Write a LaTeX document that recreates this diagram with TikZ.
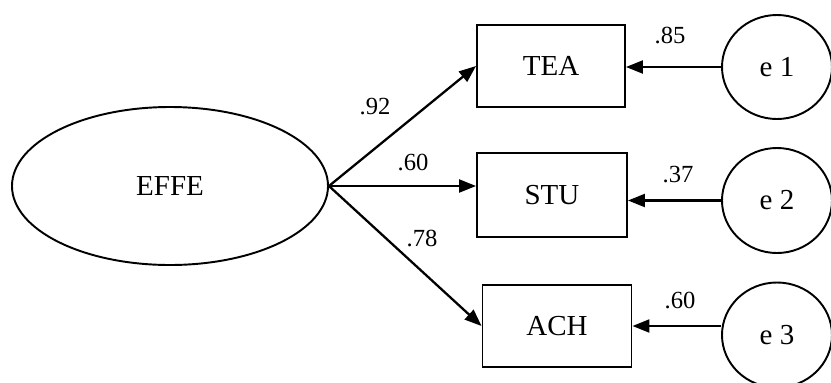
\documentclass[tikz,border=0pt]{standalone}
\usepackage{fontspec}
\setmainfont{Liberation Serif}
\usetikzlibrary{arrows.meta,shapes.geometric}

\tikzset{
  path/.style={line width=1.3pt, -{Triangle[length=3.4mm, width=2.6mm]}},
  latent/.style={draw, line width=1.1pt, ellipse, inner sep=0pt, font=\fontsize{16.5}{19}\selectfont},
  observed/.style={draw, line width=1.1pt, rectangle, inner sep=0pt, font=\fontsize{16.5}{19}\selectfont},
  weight/.style={font=\fontsize{14}{16}\selectfont}
}

\begin{document}
\begin{tikzpicture}
            % Fix the frame
            \useasboundingbox (0,0) rectangle (16.62,-7.64);

            % Latent factor
            \node[latent, minimum width=6.32cm, minimum height=3.16cm] (EFFE) at (3.40,-3.72) {EFFE};

            % Indicators
            \node[observed, minimum width=2.96cm, minimum height=1.64cm] (TEA) at (11.02,-1.32) {TEA};
            \node[observed, minimum width=3.00cm, minimum height=1.68cm] (STU) at (11.04,-3.90) {STU};
            \node[observed, minimum width=2.98cm, minimum height=1.64cm] (ACH) at (11.14,-6.52) {ACH};

            % Errors
            \node[latent, minimum width=2.20cm, minimum height=2.08cm] (e1) at (15.54,-1.34) {e 1};
            \node[latent, minimum width=2.20cm, minimum height=2.10cm] (e2) at (15.54,-4.01) {e 2};
            \node[latent, minimum width=2.20cm, minimum height=2.10cm] (e3) at (15.54,-6.70) {e 3};

            % Loadings
            \draw[path] (EFFE.east) -- (TEA.west);
            \draw[path] (EFFE.east) -- (EFFE.east -| STU.west);
            \draw[path] (EFFE.east) -- (ACH.west);
            \node[weight] (w1) at (7.50,-2.14) {.92};
            \node[weight] (w2) at (8.26,-3.24) {.60};
            \node[weight] (w3) at (8.44,-4.76) {.78};

            % Error paths
            \draw[path] (e1.west) -- (e1.west -| TEA.east);
            \draw[path] (e2.west) -- (e2.west -| STU.east);
            \draw[path] (ACH.east -| e3.west) -- (ACH.east);
            \node[weight] (v1) at (13.40,-0.70) {.85};
            \node[weight] (v2) at (13.56,-3.50) {.37};
            \node[weight] (v3) at (13.60,-6.00) {.60};
\end{tikzpicture}
\end{document}
